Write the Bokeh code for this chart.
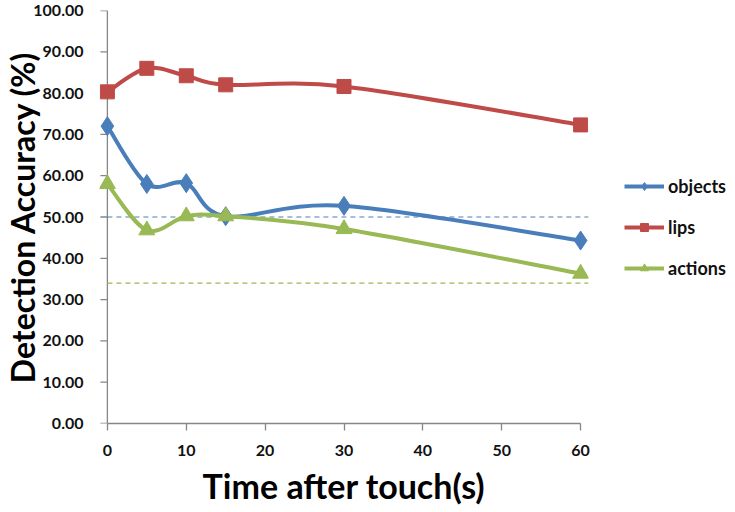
import numpy as np
from bokeh.plotting import figure
from bokeh.models import (Span, Legend, LegendItem, FixedTicker, PrintfTickFormatter,
                          Range1d, ColumnDataSource)
from bokeh.embed import file_html
from bokeh.resources import INLINE

# ---- data ----
times = [0, 5, 10, 15, 30, 60]
objects = [72.0, 58.0, 58.2, 50.2, 52.7, 44.3]
lips = [80.3, 86.0, 84.2, 82.0, 81.6, 72.3]
actions = [58.0, 46.8, 50.2, 50.2, 47.1, 36.3]
chance_objects = 50.0
chance_actions = 34.0
x_ticks = [0, 10, 20, 30, 40, 50, 60]
y_ticks = [0, 10, 20, 30, 40, 50, 60, 70, 80, 90, 100]

BLUE = "#4A7EBB"
RED = "#BE4B48"
GREEN = "#98B954"
AXIS = "#868686"
FONT = "Lato"

X0, X1 = -1, 61
FRAME_W, FRAME_H = 489, 413


def smooth(xs, ys):
    """Bezier control points (Excel-like smoothing) between consecutive data points."""
    pts = np.column_stack([xs, ys]).astype(float)
    n = len(pts)
    d = dict(x0=[], y0=[], x1=[], y1=[], cx0=[], cy0=[], cx1=[], cy1=[])
    for i in range(n - 1):
        p0 = pts[max(i - 1, 0)]
        p1 = pts[i]
        p2 = pts[i + 1]
        p3 = pts[min(i + 2, n - 1)]
        c0 = p1 + (p2 - p0) / 6.0
        c1 = p2 - (p3 - p1) / 6.0
        d["x0"].append(p1[0]); d["y0"].append(p1[1])
        d["x1"].append(p2[0]); d["y1"].append(p2[1])
        d["cx0"].append(c0[0]); d["cy0"].append(c0[1])
        d["cx1"].append(c1[0]); d["cy1"].append(c1[1])
    return ColumnDataSource(d)


p = figure(frame_width=FRAME_W, frame_height=FRAME_H, x_range=Range1d(X0, X1), y_range=Range1d(0, 100),
           output_backend="svg", toolbar_location=None,
           min_border_left=0, min_border_top=10, min_border_bottom=0, min_border_right=141)
p.outline_line_color = None
p.grid.grid_line_color = None
p.background_fill_color = "white"
p.border_fill_color = "white"

# y axis drawn at x = 0
p.add_layout(Span(location=times[0], dimension="height", line_color=AXIS, line_width=1.3, level="underlay"))
p.ray(x=[times[0]] * len(y_ticks), y=y_ticks, length=7, length_units="screen",
      angle=np.pi, line_color=AXIS, line_width=1.3)

# chance levels
p.segment(x0=[times[0]], y0=[chance_objects], x1=[X1], y1=[chance_objects],
          line_color=BLUE, line_width=1.2, line_dash="5 4")
p.segment(x0=[times[0]], y0=[chance_actions], x1=[X1], y1=[chance_actions],
          line_color=GREEN, line_width=1.2, line_dash="5 4")

items = []
for name, ys, color, marker, size in [("objects", objects, BLUE, "diamond", 19),
                                      ("lips", lips, RED, "square", 14),
                                      ("actions", actions, GREEN, "triangle", 16)]:
    src = smooth(times, ys)
    b = p.bezier(x0="x0", y0="y0", x1="x1", y1="y1", cx0="cx0", cy0="cy0",
                 cx1="cx1", cy1="cy1", source=src, line_color=color, line_width=4)
    s = p.scatter(times, ys, marker=marker, size=size, fill_color=color, line_color=color)
    items.append(LegendItem(label=name, renderers=[b, s]))

legend = Legend(items=items, location=(36, 144), border_line_color=None,
                background_fill_alpha=0, label_text_font=FONT, label_text_font_style="bold",
                label_text_font_size="18px", label_text_color="#111111",
                glyph_width=40, glyph_height=20, spacing=19, label_standoff=4,
                padding=0, margin=0)
p.add_layout(legend, "right")

# x axis
xa = p.xaxis[0]
xa.ticker = FixedTicker(ticks=x_ticks)
xa.bounds = (times[0], times[-1])
xa.axis_line_color = AXIS
xa.axis_line_width = 1.3
xa.major_tick_line_color = AXIS
xa.major_tick_line_width = 1.3
xa.major_tick_out = 7
xa.major_tick_in = 0
xa.minor_tick_line_color = None
xa.major_label_text_font = FONT
xa.major_label_text_font_style = "bold"
xa.major_label_text_font_size = "16px"
xa.major_label_text_color = "#111111"
xa.major_label_standoff = 14
xa.axis_label = "Time after touch(s)"
xa.axis_label_text_font = FONT
xa.axis_label_text_font_style = "bold"
xa.axis_label_text_font_size = "34px"
xa.axis_label_text_color = "#000000"
xa.axis_label_standoff = 6

# y axis labels only
ya = p.yaxis[0]
ya.ticker = FixedTicker(ticks=y_ticks)
ya.formatter = PrintfTickFormatter(format="%.2f")
ya.axis_line_color = None
ya.major_tick_line_color = None
ya.minor_tick_line_color = None
ya.major_label_text_font = FONT
ya.major_label_text_font_style = "bold"
ya.major_label_text_font_size = "16px"
ya.major_label_text_color = "#111111"
ya.major_label_standoff = 10
ya.axis_label = "Detection Accuracy (%)"
ya.axis_label_text_font = FONT
ya.axis_label_text_font_style = "bold"
ya.axis_label_text_font_size = "32px"
ya.axis_label_text_color = "#000000"
ya.axis_label_standoff = -12

open("out.html", "w").write(file_html(p, INLINE))
